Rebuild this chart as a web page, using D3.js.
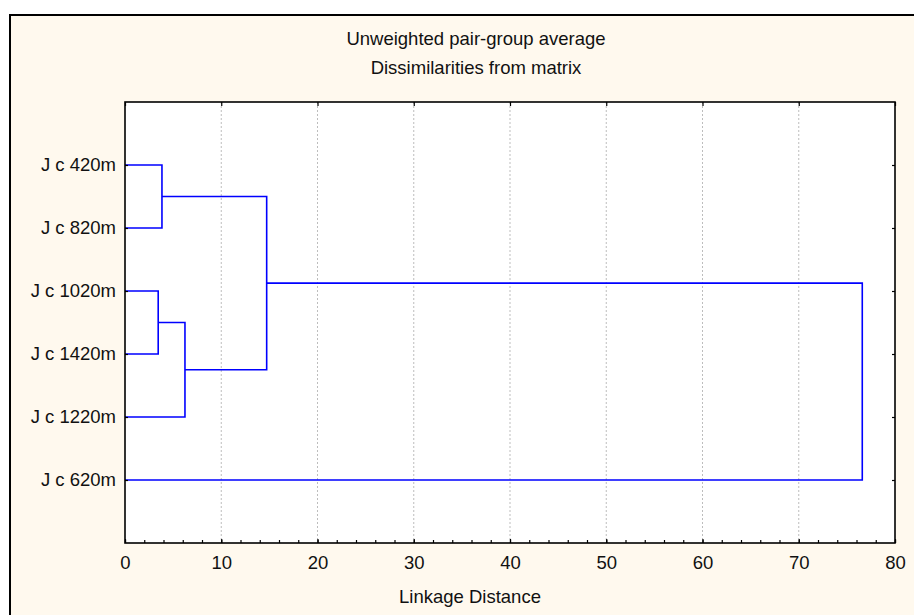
<!DOCTYPE html>
<html>
<head>
<meta charset="utf-8">
<script src="https://cdn.jsdelivr.net/npm/d3@7"></script>
<style>
  html, body { margin: 0; padding: 0; background: #ffffff; }
  svg text { font-family: "Liberation Sans", Arial, sans-serif; fill: #111; }
</style>
</head>
<body>
<svg id="chart" width="914" height="615"></svg>
<script>
// leaves, top to bottom
const leaves = ["J c 420m", "J c 820m", "J c 1020m", "J c 1420m", "J c 1220m", "J c 620m"];
// merges: [left, right, linkage distance]; ids 0-5 are leaves, 6+ are the merges in order
const merges = [
  [0, 1, 3.84],
  [2, 3, 3.45],
  [7, 4, 6.23],
  [6, 8, 14.72],
  [9, 5, 76.6]
];
const xTicks = [0, 10, 20, 30, 40, 50, 60, 70, 80];
const titles = ["Unweighted pair-group average", "Dissimilarities from matrix"];
const xTitle = "Linkage Distance";

const svg = d3.select("#chart");
const plotL = 125, plotR = 895, plotT = 102, plotB = 543;
const fontSize = 18.5;

// outer panel
svg.append("rect")
  .attr("x", 10).attr("y", 15)
  .attr("width", 960).attr("height", 640)
  .attr("fill", "#fff9ee")
  .attr("stroke", "#000").attr("stroke-width", 2);

svg.append("rect")
  .attr("x", plotL).attr("y", plotT)
  .attr("width", plotR - plotL).attr("height", plotB - plotT)
  .attr("fill", "#fff");

const x = d3.scaleLinear().domain([0, 80]).range([plotL, plotR]);
const y = d3.scaleLinear().domain([0, leaves.length + 1]).range([plotT, plotB]);

// grid
svg.append("g")
  .selectAll("line")
  .data(xTicks.slice(1, -1))
  .join("line")
  .attr("x1", (d) => x(d)).attr("x2", (d) => x(d))
  .attr("y1", plotT).attr("y2", plotB)
  .attr("stroke", "#bdbdbd")
  .attr("stroke-width", 1)
  .attr("stroke-dasharray", "2,2");

// build cluster positions
const nodes = leaves.map((name, i) => ({ y: y(i + 1), h: 0 }));
merges.forEach(([a, b, h]) => {
  nodes.push({ y: (nodes[a].y + nodes[b].y) / 2, h: h, kids: [a, b] });
});

const segs = [];
nodes.forEach((n) => {
  if (!n.kids) return;
  const a = nodes[n.kids[0]], b = nodes[n.kids[1]];
  segs.push(`M${x(a.h)},${a.y}H${x(n.h)}V${b.y}H${x(b.h)}`);
});

svg.append("g")
  .selectAll("path")
  .data(segs)
  .join("path")
  .attr("d", (d) => d)
  .attr("fill", "none")
  .attr("stroke", "#0000ff")
  .attr("stroke-width", 1.6);

// axes
const minor = d3.range(0, 81, 2);
svg.append("g")
  .attr("transform", `translate(0,${plotB})`)
  .call(d3.axisBottom(x).tickValues(minor).tickSize(-3).tickFormat(""))
  .call((g) => g.select(".domain").remove());
svg.append("g")
  .attr("transform", `translate(0,${plotB})`)
  .call(d3.axisBottom(x).tickValues(xTicks).tickSize(-4).tickPadding(13).tickFormat(d3.format("d")))
  .call((g) => g.select(".domain").remove())
  .call((g) => g.selectAll("text").attr("font-size", fontSize).attr("fill", "#111"));

svg.append("g")
  .attr("transform", `translate(0,${plotT})`)
  .call(d3.axisTop(x).tickValues(xTicks).tickSize(-4).tickFormat(""))
  .call((g) => g.select(".domain").remove());

const yAxis = d3.axisLeft(y)
  .tickValues(d3.range(1, leaves.length + 1))
  .tickFormat((d) => leaves[d - 1])
  .tickSize(-3)
  .tickPadding(9);
svg.append("g")
  .attr("transform", `translate(${plotL},0)`)
  .call(yAxis)
  .call((g) => g.select(".domain").remove())
  .call((g) => g.selectAll("text").attr("font-size", fontSize).attr("fill", "#111"));

svg.append("g")
  .attr("transform", `translate(${plotR},0)`)
  .call(d3.axisRight(y).tickValues(d3.range(1, leaves.length + 1)).tickSize(-3).tickFormat(""))
  .call((g) => g.select(".domain").remove());

svg.selectAll(".tick line").attr("stroke", "#000").attr("stroke-width", 1.2);

// plot frame
svg.append("rect")
  .attr("x", plotL).attr("y", plotT)
  .attr("width", plotR - plotL).attr("height", plotB - plotT)
  .attr("fill", "none")
  .attr("stroke", "#000")
  .attr("stroke-width", 1.6);

// titles
svg.append("g")
  .selectAll("text")
  .data(titles)
  .join("text")
  .attr("x", 476)
  .attr("y", (d, i) => 45 + i * 29)
  .attr("text-anchor", "middle")
  .attr("font-size", fontSize)
  .text((d) => d);

svg.append("text")
  .attr("x", 470)
  .attr("y", 603)
  .attr("text-anchor", "middle")
  .attr("font-size", fontSize)
  .text(xTitle);
</script>
</body>
</html>
